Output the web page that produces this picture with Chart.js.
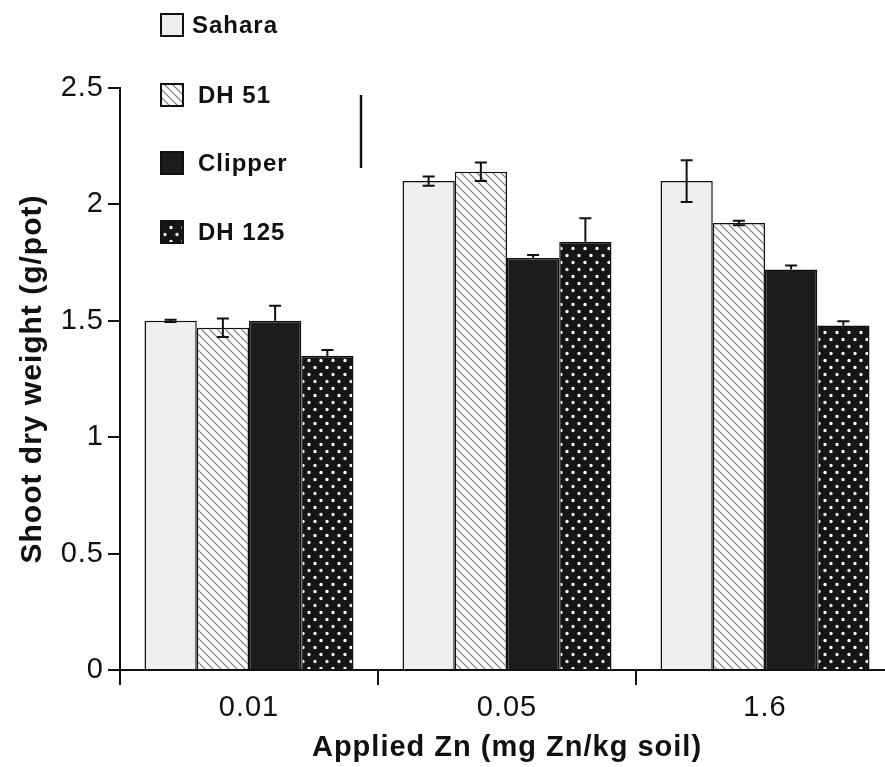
<!DOCTYPE html>
<html>
<head>
<meta charset="utf-8">
<script src="https://cdn.jsdelivr.net/npm/chart.js@4"></script>
<style>
  html, body { margin: 0; background: #fff; overflow: hidden; }
</style>
</head>
<body>
<canvas id="zinc" width="894" height="767"></canvas>
<script>
const zincRates = ['0.01', '0.05', '1.6'];
const cultivars = ['Sahara', 'DH 51', 'Clipper', 'DH 125'];

const sahara = [1.50, 2.10, 2.10];
const dh51 = [1.47, 2.14, 1.92];
const clipper = [1.50, 1.77, 1.72];
const dh125 = [1.35, 1.84, 1.48];

const saharaErr = [0.005, 0.02, 0.09];
const dh51Err = [0.04, 0.04, 0.01];
const clipperErr = [0.065, 0.013, 0.018];
const dh125Err = [0.025, 0.10, 0.018];

const yTicks = [0, 0.5, 1, 1.5, 2, 2.5];

// fills
function makePattern(w, h, draw) {
  const c = document.createElement('canvas');
  c.width = w; c.height = h;
  draw(c.getContext('2d'));
  return c.getContext('2d').createPattern(c, 'repeat');
}
const hatch = makePattern(8, 8, g => {
  g.fillStyle = '#fff';
  g.fillRect(0, 0, 8, 8);
  g.strokeStyle = '#7a7a7a';
  g.lineWidth = 1.2;
  g.beginPath();
  g.moveTo(0, 0); g.lineTo(8, 8);
  g.moveTo(-1, 7); g.lineTo(1, 9);
  g.moveTo(7, -1); g.lineTo(9, 1);
  g.stroke();
});
const dots = makePattern(12, 14, g => {
  g.fillStyle = '#151515';
  g.fillRect(0, 0, 12, 14);
  g.fillStyle = '#fff';
  g.beginPath();
  g.arc(3, 3.5, 1.7, 0, Math.PI * 2);
  g.arc(9, 10.5, 1.7, 0, Math.PI * 2);
  g.fill();
});

const fills = ['#efefef', hatch, '#1c1c1c', dots];
const values = [sahara, dh51, clipper, dh125];
const errors = [saharaErr, dh51Err, clipperErr, dh125Err];
const lowerWhisker = [true, true, false, false];

Chart.defaults.font.family = 'Arial, "Liberation Sans", Helvetica, sans-serif';
Chart.defaults.color = '#111';

const errorBars = {
  id: 'errorBars',
  afterDatasetsDraw(chart) {
    const ctx = chart.ctx;
    const y = chart.scales.y;
    ctx.save();
    ctx.strokeStyle = '#111';
    ctx.lineWidth = 2;
    chart.data.datasets.forEach((ds, i) => {
      chart.getDatasetMeta(i).data.forEach((bar, j) => {
        const v = ds.data[j], e = ds.err[j];
        const top = y.getPixelForValue(v + e);
        const bot = lowerWhisker[i] ? y.getPixelForValue(v - e) : y.getPixelForValue(v);
        ctx.beginPath();
        ctx.moveTo(bar.x, top); ctx.lineTo(bar.x, bot);
        ctx.moveTo(bar.x - 6, top); ctx.lineTo(bar.x + 6, top);
        if (lowerWhisker[i]) { ctx.moveTo(bar.x - 6, bot); ctx.lineTo(bar.x + 6, bot); }
        ctx.stroke();
      });
    });
    ctx.restore();
  }
};

const sideLegend = {
  id: 'sideLegend',
  beforeDraw(chart) {
    chart.ctx.letterSpacing = '1px';
  },
  afterDraw(chart) {
    const ctx = chart.ctx;
    const rows = [25, 95, 163, 232];
    ctx.save();
    ctx.font = 'bold 24px Arial, "Liberation Sans", sans-serif';
    ctx.textBaseline = 'middle';
    chart.data.datasets.forEach((ds, i) => {
      ctx.fillStyle = ds.backgroundColor;
      ctx.fillRect(161, rows[i] - 11, 22, 22);
      ctx.strokeStyle = '#111';
      ctx.lineWidth = 2;
      ctx.strokeRect(161, rows[i] - 11, 22, 22);
      ctx.fillStyle = '#111';
      ctx.fillText(ds.label, i === 0 ? 192 : 198, rows[i] + 1);
    });
    // short vertical rule beside the legend
    ctx.beginPath();
    ctx.lineWidth = 2.5;
    ctx.moveTo(361, 95);
    ctx.lineTo(361, 168);
    ctx.stroke();
    ctx.restore();
  }
};

new Chart(document.getElementById('zinc'), {
  type: 'bar',
  data: {
    labels: zincRates,
    datasets: cultivars.map((name, i) => ({
      label: name,
      data: values[i],
      err: errors[i],
      backgroundColor: fills[i],
      borderColor: '#111',
      borderWidth: 1.5,
      categoryPercentage: 0.81,
      barPercentage: 1.0
    }))
  },
  options: {
    responsive: false,
    animation: false,
    layout: { padding: { top: 88, right: 0, left: 0, bottom: 0 } },
    plugins: {
      legend: { display: false },
      tooltip: { enabled: false }
    },
    scales: {
      x: {
        offset: true,
        grid: { display: true, offset: true, drawOnChartArea: false, drawTicks: true, tickLength: 15, color: '#111', lineWidth: 2 },
        border: { display: true, color: '#111', width: 2 },
        ticks: { font: { size: 29 }, padding: 6, color: '#111' },
        title: { display: true, text: 'Applied Zn (mg Zn/kg soil)', font: { size: 29, weight: 'bold' }, padding: { top: 0, bottom: 2 }, color: '#111' },
        afterFit(s) { s.height = 97; }
      },
      y: {
        min: 0,
        max: 2.5,
        afterBuildTicks(s) { s.ticks = yTicks.map(v => ({ value: v })); },
        grid: { display: true, drawOnChartArea: false, drawTicks: true, tickLength: 12, color: '#111', lineWidth: 2 },
        border: { display: true, color: '#111', width: 2 },
        ticks: { font: { size: 29 }, padding: 4, color: '#111', callback: v => String(v) },
        title: { display: true, text: 'Shoot dry weight (g/pot)', font: { size: 30, weight: 'bold' }, padding: { top: 15, bottom: 0 }, color: '#111' },
        afterFit(s) { s.width = 120; }
      }
    }
  },
  plugins: [errorBars, sideLegend]
});
</script>
</body>
</html>
